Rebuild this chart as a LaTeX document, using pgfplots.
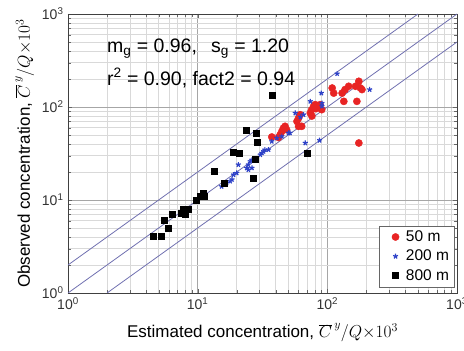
\documentclass[border=0pt]{standalone}
\usepackage{pgfplots}
\pgfplotsset{compat=1.18}
\usepackage{fontspec}
\setmainfont{Liberation Sans}
\definecolor{refline}{RGB}{112,112,176}
\definecolor{redpt}{RGB}{232,36,36}
\definecolor{bluept}{RGB}{45,65,200}
\begin{document}
\begin{tikzpicture}
\begin{axis}[
  name=ax,
  scale only axis,
  width=389pt, height=279pt,
  xmode=log, ymode=log,
  xmin=1, xmax=1000, ymin=1, ymax=1000,
  xtick={1,10,100,1000}, ytick={1,10,100,1000},
  xticklabels={10\textsuperscript{0},10\textsuperscript{1},10\textsuperscript{2},10\textsuperscript{3}},
  yticklabels={10\textsuperscript{0},10\textsuperscript{1},10\textsuperscript{2},10\textsuperscript{3}},
  tick label style={font=\fontsize{14}{16}\selectfont, text=black!80},
  xticklabel style={yshift=-1pt},
  yticklabel style={xshift=-1pt},
  grid=both,
  major grid style={draw=black!35, line width=0.6pt},
  minor grid style={draw=black!15, line width=0.5pt},
  axis line style={draw=black!75, line width=0.8pt},
  tick style={draw=black!60},
  xlabel={Estimated concentration, $\overline{C}^{\,y}\big/Q{\times}10^{3}$},
  ylabel={Observed concentration, $\overline{C}^{\,y}\big/Q{\times}10^{3}$},
  label style={font=\fontsize{17}{19}\selectfont},
  xlabel style={at={(axis description cs:0.5,-0.143)}, anchor=center},
  ylabel style={at={(axis description cs:-0.111,0.5)}, anchor=center},
  legend cell align=left,
  legend image code/.code={%
    \path[draw=none,fill=none] (-5pt,0pt) -- (17pt,0pt);
    \draw[#1] plot coordinates {(0.3cm,0cm)};},
  legend style={font=\fontsize{15.5}{17}\selectfont, draw=black!60, row sep=3pt,
    inner xsep=3pt, inner ysep=3pt,
    at={(0.993,0.0215)}, anchor=south east},
]
\addplot[only marks, mark=*, mark size=3.6pt, color=redpt] coordinates {
(37.3,47.6)(43.3,50.4)(44.6,54.7)(45.9,59.4)(47.2,62)(48.5,57)(42,47)
(58.3,70.1)(60,76.2)(61.7,82.7)(60,62)(63.4,62)
(73.9,86.2)(75.8,93.6)(78.4,102)(80.6,106)(88,106)(90.5,93.6)(76,80)(82,96)
(109,160)(112,141)(130,141)(134,115)(137,154)(146,167)
(165,167)(175,189)(180,160)(185,154)(169,115)(175,41)
};
\addlegendentry{50 m}
\addplot[only marks, mark=star, mark size=2.6pt, line width=1.2pt, color=bluept] coordinates {
(15.3,14.0)(16.7,15.2)(17.8,15.9)(18.4,16.6)(18.9,18.7)(20,19.5)(20.6,24)
(23.9,22.1)(24.6,24)(25.4,26)(26.2,27)(24.6,21.2)(26.2,22.1)
(30.4,30.7)(31.3,32)(32.2,33.3)(33,34.7)(35.2,34.8)
(37.3,42.7)(40.8,46.4)(44.6,48.4)(50.2,52.5)(51.5,52.5)
(56.6,86)(65.6,82.7)(67.6,41)(73.9,115)(87.1,43.8)(89.9,141)(90.9,110)(90.9,102)
(119,228)(212,154)(62,78)
};
\addlegendentry{200 m}
\addplot[only marks, mark=square*, mark size=3.0pt, color=black] coordinates {
(4.54,4.07)(5.27,4.07)(5.49,6.04)(5.93,5.0)(6.41,6.95)(7.52,7.25)(7.75,8.0)(7.95,7.0)
(8.47,8.0)(9.82,10.0)(10.4,10.9)(11.1,11.9)(11.3,11.0)(13.5,20.3)(16.0,15.2)
(18.9,32.6)(21.0,31.5)(23.6,57)(26.9,17.2)(27.7,27.6)(28.3,52.5)(28.6,41.7)
(37.3,133)(69.6,31.5)
};
\addlegendentry{800 m}
\addplot[refline, line width=0.8pt, forget plot] coordinates {(1,1)(1000,1000)};
\addplot[refline, line width=0.8pt, forget plot] coordinates {(1,2)(500,1000)};
\addplot[refline, line width=0.8pt, forget plot] coordinates {(2,1)(1000,500)};
\node[anchor=base west, font=\fontsize{19.5}{22}\selectfont, inner sep=0pt] at (rel axis cs:0.100,0.863)
  {m\textsubscript{g} = 0.96,\hspace{14pt}s\textsubscript{g} = 1.20};
\node[anchor=base west, font=\fontsize{19.5}{22}\selectfont, inner sep=0pt] at (rel axis cs:0.100,0.745)
  {r\textsuperscript{2} = 0.90, fact2 = 0.94};
\end{axis}
\pgfresetboundingbox
\path (ax.south west) ++(-68pt,-58pt) rectangle ++(464pt,351pt);
\end{tikzpicture}
\end{document}
